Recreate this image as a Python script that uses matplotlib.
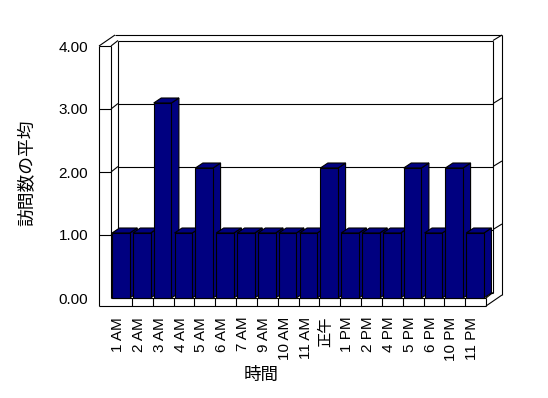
import matplotlib
matplotlib.use("Agg")
import matplotlib.pyplot as plt
from matplotlib.patches import Polygon

# --- donnees ---
hours = ["1 AM", "2 AM", "3 AM", "4 AM", "5 AM", "6 AM", "7 AM", "9 AM", "10 AM",
         "11 AM", "正午", "1 PM", "2 PM", "4 PM", "5 PM", "6 PM", "10 PM", "11 PM"]
visits = [1, 1, 3, 1, 2, 1, 1, 1, 1, 1, 2, 1, 1, 1, 2, 1, 2, 1]
y_ticks = [0, 1, 2, 3, 4]

W, H = 548, 398
n = len(hours)
ymax = y_ticks[-1]
PX_X = 375 / n      # pixels par categorie
PX_Y = 63.0         # pixels par unite de valeur
BAR_SCALE = 65 / 63  # les barres paraissent un peu plus hautes (perspective)
NAVY = "#000080"
LW = 0.8

plt.rcParams["font.family"] = ["Liberation Sans", "Noto Sans CJK JP"]

fig = plt.figure(figsize=(W / 100, H / 100), dpi=100)
ax = fig.add_axes([111 / W, 100 / H, 375 / W, 252 / H])
ax.set_xlim(0, n)
ax.set_ylim(0, ymax)
for s in ax.spines.values():
    s.set_visible(False)


def d(dx_px, dy_px):
    """decalage en pixels (y vers le bas) -> decalage en unites de donnees"""
    return dx_px / PX_X, -dy_px / PX_Y


wx, wy = d(7, -5.5)     # profondeur interieure des murs
ox, oy = d(16, -11)     # profondeur exterieure (epaisseur des murs)
lt = 12 / PX_X          # epaisseur du mur gauche (face avant)
ft = 8 / PX_Y           # epaisseur du sol (face avant)
bx, by = d(7.5, -5)     # profondeur des barres


def line(xs, ys, z=1):
    ax.plot(xs, ys, color="black", lw=LW, clip_on=False, zorder=z,
            solid_capstyle="butt")


# --- mur gauche ---
line([-lt, -lt], [-ft, ymax])
line([-lt, 0], [ymax, ymax])
line([0, 0], [0, ymax])
line([-lt, -lt + ox], [ymax, ymax + oy])
line([0, wx], [ymax, ymax + wy])

# --- mur du fond ---
line([wx, wx], [wy, ymax + wy])
line([wx, n + wx], [ymax + wy, ymax + wy])
line([n + wx, n + wx], [wy, ymax + wy])
line([-lt + ox, n + ox], [ymax + oy, ymax + oy])
line([n + ox, n + ox], [-ft + oy, ymax + oy])
line([n + wx, n + ox], [ymax + wy, ymax + oy])

# --- quadrillage ---
for v in y_ticks[1:-1]:
    line([-lt, 0], [v, v])
    line([0, wx], [v, v + wy])
    line([wx, n + wx], [v + wy, v + wy])
    line([n + wx, n + ox], [v + wy, v + oy])

# --- sol ---
line([-lt, n], [-ft, -ft])
line([0, n], [0, 0])
line([wx, n + wx], [wy, wy])
for k in range(1, n + 1):
    line([k, k], [-ft, 0])
line([n, n + ox], [-ft, -ft + oy])
line([n, n + wx], [0, wy])

# --- barres 3D (de gauche a droite) ---
for i, v in enumerate(visits):
    h = v * BAR_SCALE
    x0, x1 = i + 0.05, i + 0.9
    side = [(x1, 0), (x1 + bx, by), (x1 + bx, h + by), (x1, h)]
    top = [(x0, h), (x1, h), (x1 + bx, h + by), (x0 + bx, h + by)]
    front = [(x0, 0), (x1, 0), (x1, h), (x0, h)]
    for poly in (side, top, front):
        ax.add_patch(Polygon(poly, closed=True, facecolor=NAVY,
                             edgecolor="black", lw=LW, clip_on=False,
                             zorder=3))

# --- axes et libelles ---
ax.set_yticks(y_ticks)
ax.set_yticklabels([f"{t:.2f}" for t in y_ticks])
ax.set_xticks([i + 0.34 for i in range(n)])
ax.set_xticklabels(hours, rotation=90)
ax.tick_params(axis="y", length=0, pad=16.5, labelsize=11)
ax.tick_params(axis="x", length=0, pad=13.5, labelsize=11)

ax.text(-0.224, 0.496, "訪問数の平均", transform=ax.transAxes, rotation=90,
        ha="center", va="center", fontsize=12.8, family="Noto Sans CJK JP")
ax.text(0.4, -0.306, "時間", transform=ax.transAxes,
        ha="center", va="center", fontsize=12.6, family="Noto Sans CJK JP")

fig.savefig("out.png", dpi=100, facecolor="white")
